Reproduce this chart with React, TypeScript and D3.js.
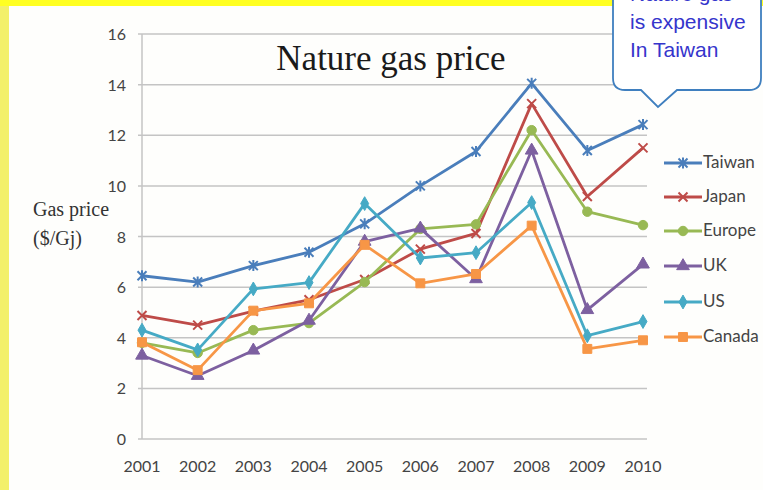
import React from "react";
import * as d3 from "d3";

const years = ["2001", "2002", "2003", "2004", "2005", "2006", "2007", "2008", "2009", "2010"];
const yTicks = [0, 2, 4, 6, 8, 10, 12, 14, 16];

const taiwan = [6.45, 6.2, 6.85, 7.38, 8.5, 10.0, 11.36, 14.05, 11.4, 12.42];
const japan = [4.88, 4.5, 5.05, 5.5, 6.3, 7.5, 8.12, 13.25, 9.58, 11.5];
const europe = [3.8, 3.4, 4.3, 4.58, 6.2, 8.3, 8.48, 12.2, 8.98, 8.45];
const uk = [3.3, 2.5, 3.5, 4.68, 7.8, 8.32, 6.32, 11.4, 5.1, 6.9];
const us = [4.3, 3.52, 5.93, 6.18, 9.3, 7.15, 7.36, 9.34, 4.08, 4.64];
const canada = [3.82, 2.72, 5.07, 5.36, 7.67, 6.15, 6.52, 8.43, 3.56, 3.9];

const seriesNames = ["Taiwan", "Japan", "Europe", "UK", "US", "Canada"];
const seriesValues = [taiwan, japan, europe, uk, us, canada];
const seriesColors = ["#4a7ebb", "#be4b48", "#98b954", "#7d60a0", "#46aac5", "#f79646"];
const seriesMarkers = ["star", "x", "circle", "triangle", "diamond", "square"];

const calloutLines = ["Nature gas", "is expensive", "In Taiwan"];

const W = 763;
const H = 490;

const x = d3.scalePoint<string>().domain(years).range([142, 643]);
const y = d3.scaleLinear().domain([0, 16]).range([439, 34]);

function markerPath(kind: string): string {
  switch (kind) {
    case "star": {
      const r = 4.5;
      return `M${-r},${-r}L${r},${r}M${-r},${r}L${r},${-r}M0,${-r - 1}L0,${r + 1}`;
    }
    case "x": {
      const r = 4.5;
      return `M${-r},${-r}L${r},${r}M${-r},${r}L${r},${-r}`;
    }
    case "circle":
      return d3.symbol(d3.symbolCircle, 70)() as string;
    case "triangle":
      return d3.symbol(d3.symbolTriangle, 70)() as string;
    case "diamond":
      return d3.symbol(d3.symbolDiamond, 55)() as string;
    default:
      return d3.symbol(d3.symbolSquare, 80)() as string;
  }
}

function Marker({ kind, color, cx, cy }: { kind: string; color: string; cx: number; cy: number }) {
  const open = kind === "star" || kind === "x";
  return (
    <path
      d={markerPath(kind)}
      transform={`translate(${cx},${cy})`}
      fill={open ? "none" : color}
      stroke={color}
      strokeWidth={open ? 2 : 1}
    />
  );
}

export default function App() {
  const line = d3
    .line<number>()
    .x((_, i) => x(years[i]) as number)
    .y((d) => y(d));

  const sans = "Lato, 'Open Sans', sans-serif";
  const serif = "'Liberation Serif', 'Times New Roman', serif";
  const legendY = [163, 197, 231, 266, 302, 337];

  return (
    <svg
      width={W}
      height={H}
      viewBox={`0 0 ${W} ${H}`}
      style={{ position: "absolute", left: 0, top: 0, display: "block" }}
    >
      {/* slide frame */}
      <rect x={0} y={0} width={W} height={H} fill="#f3f06a" />
      <rect x={0} y={0} width={W} height={6} fill="#ffff22" />
      <rect x={9} y={6} width={W - 9} height={H - 6} fill="#fefefc" />

      {/* gridlines */}
      {yTicks.map((t) => (
        <line key={t} x1={138} x2={647} y1={y(t)} y2={y(t)} stroke="#c4c4c4" strokeWidth={1.5} />
      ))}
      <line x1={142} x2={142} y1={y(16)} y2={y(0)} stroke="#c4c4c4" strokeWidth={1.5} />

      {/* y tick labels */}
      {yTicks.map((t) => (
        <text key={t} x={126} y={y(t) + 6} textAnchor="end" fontFamily={sans} fontSize={16} fill="#444">
          {t}
        </text>
      ))}

      {/* x tick labels */}
      {years.map((yr) => (
        <text key={yr} x={x(yr)} y={472} textAnchor="middle" fontFamily={sans} fontSize={16} fill="#444">
          {yr}
        </text>
      ))}

      {/* title */}
      <text x={391} y={70} textAnchor="middle" fontFamily={serif} fontSize={35} fill="#1a1a1a">
        Nature gas price
      </text>

      {/* y axis title */}
      <text x={33} y={216} fontFamily={serif} fontSize={20} fill="#333">
        Gas price
      </text>
      <text x={33} y={245} fontFamily={serif} fontSize={20} fill="#333">
        ($/Gj)
      </text>

      {/* series */}
      {seriesValues.map((vals, si) => (
        <g key={seriesNames[si]}>
          <path d={line(vals) as string} fill="none" stroke={seriesColors[si]} strokeWidth={2.8} strokeLinejoin="round" />
          {vals.map((v, i) => (
            <Marker key={i} kind={seriesMarkers[si]} color={seriesColors[si]} cx={x(years[i]) as number} cy={y(v)} />
          ))}
        </g>
      ))}

      {/* legend */}
      {seriesNames.map((name, si) => (
        <g key={name}>
          <line x1={664} x2={702} y1={legendY[si]} y2={legendY[si]} stroke={seriesColors[si]} strokeWidth={2.8} />
          <Marker kind={seriesMarkers[si]} color={seriesColors[si]} cx={683} cy={legendY[si]} />
          <text x={703} y={legendY[si] + 5} fontFamily={sans} fontSize={17} fill="#444">
            {name}
          </text>
        </g>
      ))}

      {/* callout */}
      <path
        d="M625,-20 L761,-20 L761,78 Q761,90 749,90 L677,90 L658,107 L641,90 L625,90 Q613,90 613,78 L613,-8 Q613,-20 625,-20 Z"
        fill="#ffffff"
        stroke="#3f7fbf"
        strokeWidth={1.8}
      />
      {calloutLines.map((t, i) => (
        <text key={t} x={630} y={1 + i * 28} fontFamily="'Liberation Sans', Arial, sans-serif" fontSize={21} fill="#3535cc">
          {t}
        </text>
      ))}
    </svg>
  );
}
